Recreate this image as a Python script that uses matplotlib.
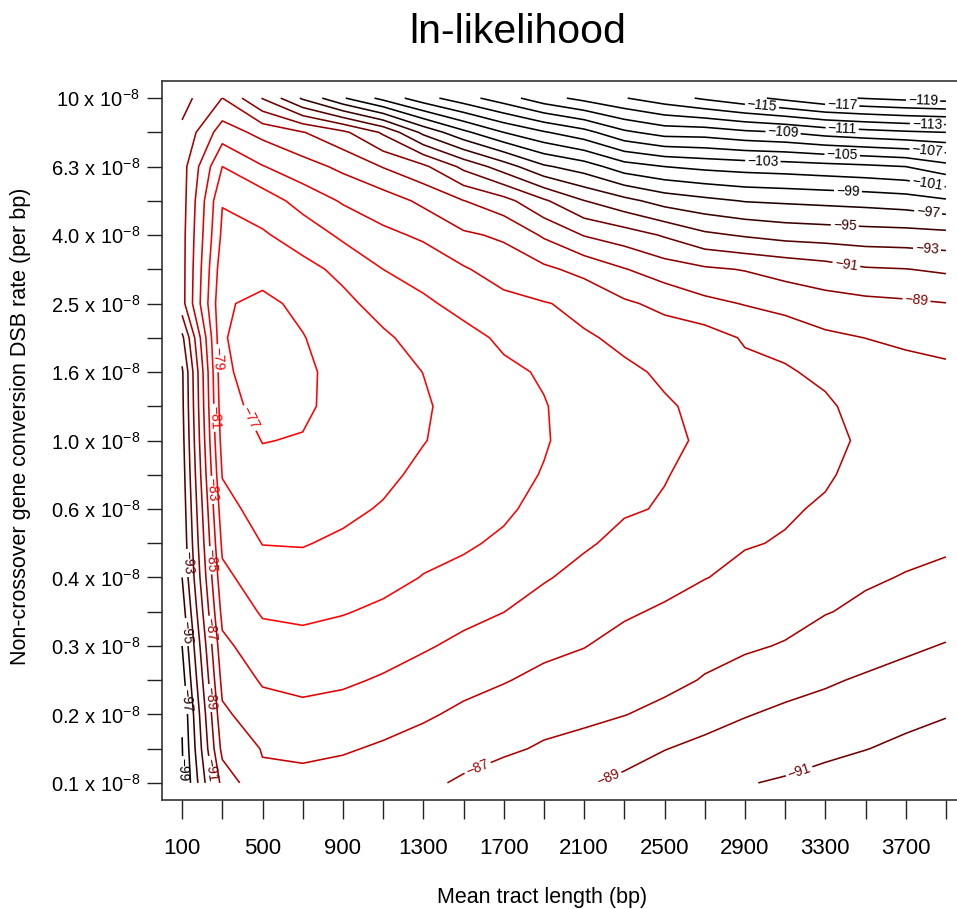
import numpy as np
import matplotlib
matplotlib.use("Agg")
import matplotlib.pyplot as plt

plt.rcParams['font.family'] = ['Liberation Sans', 'DejaVu Sans']
plt.rcParams['mathtext.fontset'] = 'custom'
plt.rcParams['mathtext.rm'] = 'Liberation Sans'
plt.rcParams['mathtext.it'] = 'Liberation Sans'

# grid of the likelihood surface: one list per mean tract length (bp),
# values from the lowest rate (0.1e-8) up to the highest (10e-8)
tract_lengths = [100, 300, 500, 700, 900, 1100, 1300, 1500, 1700, 1900,
                 2100, 2300, 2500, 2700, 2900, 3100, 3300, 3500, 3700, 3900]
rate_labels = ['0.1', '0.2', '0.3', '0.4', '0.6', '1.0', '1.6', '2.5', '4.0', '6.3', '10']

ll_100 = [-99.3, -99.1, -98.8, -97.9, -97.0, -96.0, -95.0, -94.6, -94.3, -94.0, -93.7,
          -93.45, -93.3, -91.5, -87.7, -87.7, -87.7, -87.85, -87.8, -88.6, -89.7]
ll_300 = [-88.3, -86.4, -85.4, -84.4, -83.5, -82.4, -81.5, -80.6, -79.8, -78.9, -78.2,
          -77.7, -77.35, -77.15, -77.25, -77.8, -78.6, -79.1, -81.0, -84.0, -86.98]
ll_500 = [-85.3, -84.9, -83.8, -82.8, -81.8, -80.8, -79.9, -78.95, -78.1, -77.5, -76.95,
          -76.4, -76.1, -76.0, -76.5, -77.8, -78.8, -79.9, -82.9, -85.6, -91.1]
ll_700 = [-85.4, -84.7, -83.3, -82.7, -81.6, -80.6, -79.7, -78.9, -78.1, -77.5, -77.1,
          -76.7, -76.6, -76.9, -77.5, -78.5, -79.75, -81.8, -84.2, -86.9, -95.3]
ll_900 = [-85.85, -84.8, -83.8, -82.7, -81.8, -80.9, -80.1, -79.3, -78.6, -78.1, -77.8,
          -77.58, -77.68, -78.15, -78.6, -79.4, -81.4, -83.2, -85.45, -88.55, -98.8]
ll_1100 = [-86.3, -85.25, -84.2, -83.2, -82.2, -81.3, -80.5, -79.8, -79.15, -78.6, -78.3,
           -78.2, -78.35, -78.75, -79.6, -81.0, -82.6, -84.0, -87.1, -91.3, -101.6]
ll_1300 = [-86.7, -85.73, -84.75, -83.78, -82.8, -81.93, -81.06, -80.5, -79.95, -79.4, -78.93,
           -78.8, -79.02, -79.6, -80.6, -81.93, -83.27, -85.43, -88.57, -95.5, -104.2]
ll_1500 = [-87.2, -86.45, -85.35, -84.45, -83.4, -82.5, -81.5, -80.75, -80.2, -79.85, -79.65,
           -79.63, -79.8, -80.3, -81.7, -82.8, -84.7, -86.95, -91.5, -98.5, -106.2]
ll_1700 = [-87.9, -86.7, -85.8, -84.9, -84.0, -82.98, -82.1, -81.3, -80.7, -80.4, -80.25,
           -80.3, -80.6, -81.38, -82.4, -83.9, -85.3, -88.3, -94.0, -101.0, -108.1]
ll_1900 = [-88.1, -87.2, -86.4, -85.4, -84.6, -83.7, -82.85, -82.1, -81.55, -81.1, -80.85,
           -80.9, -81.2, -81.8, -82.9, -84.6, -87.27, -90.7, -96.7, -102.8, -110.2]
ll_2100 = [-88.8, -87.6, -86.6, -85.7, -84.95, -84.2, -83.5, -82.8, -82.3, -81.95, -81.75,
           -81.8, -82.1, -82.85, -83.4, -85.6, -89.1, -92.95, -98.0, -104.3, -111.6]
ll_2300 = [-89.4, -88.25, -86.95, -86.3, -85.5, -84.8, -84.1, -83.4, -82.85, -82.6, -82.5,
           -82.55, -82.8, -83.25, -84.7, -86.9, -90.0, -94.4, -100.1, -106.6, -112.9]
ll_2500 = [-89.9, -88.95, -87.5, -86.5, -85.8, -85.2, -84.5, -83.7, -83.1, -82.95, -82.85,
           -82.9, -83.15, -84.0, -85.5, -88.0, -91.2, -95.8, -101.0, -107.8, -114.1]
ll_2700 = [-90.5, -89.4, -88.4, -87.12, -86.45, -85.8, -84.95, -84.3, -83.75, -83.3, -83.1,
           -83.2, -83.55, -84.1, -86.5, -88.7, -92.6, -96.5, -101.5, -107.9, -115.3]
ll_2900 = [-90.9, -89.9, -88.9, -87.6, -86.8, -86.1, -85.4, -84.9, -84.55, -84.3, -84.2,
           -84.3, -84.5, -85.2, -87.1, -89.1, -93.2, -97.1, -101.8, -108.6, -116.4]
ll_3100 = [-91.2, -90.2, -89.35, -88.35, -87.1, -86.5, -85.9, -85.1, -84.85, -84.75, -84.7,
           -84.8, -84.9, -85.3, -87.9, -89.6, -93.7, -97.3, -102.0, -109.0, -117.5]
ll_3300 = [-91.6, -90.6, -89.6, -88.8, -87.95, -86.9, -86.2, -85.7, -85.15, -84.85, -84.75,
           -84.85, -85.2, -86.6, -88.3, -90.1, -93.9, -97.5, -102.3, -109.8, -118.6]
ll_3500 = [-92.1, -90.95, -90.0, -89.2, -88.3, -87.4, -86.75, -86.2, -85.75, -85.4, -85.15,
           -85.35, -85.8, -87.02, -88.5, -90.8, -94.1, -97.7, -102.6, -110.3, -119.1]
ll_3700 = [-92.5, -91.4, -90.5, -89.6, -88.7, -87.85, -87.1, -86.5, -86.0, -85.7, -85.6,
           -85.7, -86.1, -87.5, -88.7, -90.95, -94.2, -98.0, -103.0, -110.7, -119.5]
ll_3900 = [-92.8, -91.8, -90.9, -90.0, -89.1, -88.2, -87.3, -86.8, -86.2, -85.9, -85.8,
           -86.0, -86.4, -88.0, -88.95, -91.3, -94.4, -98.7, -104.3, -111.0, -119.8]

columns = [ll_100, ll_300, ll_500, ll_700, ll_900, ll_1100, ll_1300, ll_1500, ll_1700, ll_1900,
           ll_2100, ll_2300, ll_2500, ll_2700, ll_2900, ll_3100, ll_3300, ll_3500, ll_3700, ll_3900]
Z = np.column_stack(columns)
rows = np.arange(Z.shape[0])
x = np.array(tract_lengths)

levels = np.arange(-119, -76, 2)

# red for the high part of the surface, fading to black at -99 and below
line_colors = []
for lev in levels:
    t = min(max((lev + 99) / 18.0, 0.0), 1.0)
    line_colors.append((t, 0.0, 0.0))

fig = plt.figure(figsize=(9.57, 9.09), dpi=100)
ax = fig.add_axes([162 / 957, 1 - 800 / 909, 804 / 957, 719 / 909])

cs = ax.contour(x, rows, Z, levels=levels, colors=line_colors, linewidths=1.15)

# label spots (tract length, rate index) per level
label_spots = {
    -77: [(438, 10.66)],
    -79: [(264, 12.4)],
    -81: [(239, 10.66)],
    -83: [(234, 8.55)],
    -85: [(239, 6.5)],
    -87: [(239, 4.47), (1568, 0.47)],
    -89: [(239, 2.48), (2219, 0.18), (3752, 14.0)],
    -91: [(239, 0.38), (3164, 0.44), (3408, 15.27)],
    -93: [(115, 6.42), (3806, 15.6)],
    -95: [(115, 4.4), (3398, 16.4)],
    -97: [(115, 2.42), (3811, 16.64)],
    -99: [(125, 0.38), (3413, 17.34)],
    -101: [(3806, 17.46)],
    -103: [(2990, 18.28)],
    -105: [(3384, 18.36)],
    -107: [(3806, 18.45)],
    -109: [(3090, 19.0)],
    -111: [(3384, 19.13)],
    -113: [(3806, 19.2)],
    -115: [(2985, 19.77)],
    -117: [(3384, 19.8)],
    -119: [(3786, 19.85)],
}


def level_text(v):
    return '\u2212%d' % abs(int(round(v)))


# set up label style once, then place each label on its own level only
ax.clabel(cs, manual=[], inline=True, fontsize=10, fmt=level_text)
all_levels = list(cs.levels)
for i, lev in enumerate(all_levels):
    spots = label_spots.get(int(round(lev)))
    if not spots:
        continue
    lvl_list = list(all_levels)
    lvl_list[0] = lev          # width lookup uses the first entry
    cs.labelLevelList = lvl_list
    cs.labelIndiceList = [i]
    for sx, sy in spots:
        cs.add_label_near(sx, sy, inline=True, inline_spacing=3)

ax.set_xlim(0, 4000)
ax.set_ylim(-0.5, 20.5)

ax.set_xticks(x)
ax.set_xticklabels([str(v) if i % 2 == 0 else '' for i, v in enumerate(tract_lengths)],
                   fontsize=16)
ax.set_yticks(rows)
ylabels = []
for i in rows:
    if i % 2 == 0:
        ylabels.append(rate_labels[i // 2] + r' x 10$^{\mathregular{-8}}$')
    else:
        ylabels.append('')
ax.set_yticklabels(ylabels, fontsize=14.5)

ax.tick_params(axis='x', length=14, width=1.0, pad=13, colors='#222222')
ax.tick_params(axis='y', length=11, width=1.0, pad=5, colors='#222222')
for tl in ax.get_xticklabels() + ax.get_yticklabels():
    tl.set_color('black')
for side in ['left', 'bottom', 'top', 'right']:
    ax.spines[side].set_linewidth(1.2)
    ax.spines[side].set_color('#333333')

fig.text(518 / 957, 1 - 43 / 909, 'ln-likelihood', fontsize=29.5,
         ha='center', va='baseline')
fig.text(542 / 957, 1 - 903 / 909, 'Mean tract length (bp)', fontsize=15.5,
         ha='center', va='baseline')
fig.text(21 / 957, 1 - 426 / 909, 'Non-crossover gene conversion DSB rate (per bp)',
         fontsize=15.5, rotation=90, ha='center', va='center')

fig.savefig('out.png', dpi=100)
